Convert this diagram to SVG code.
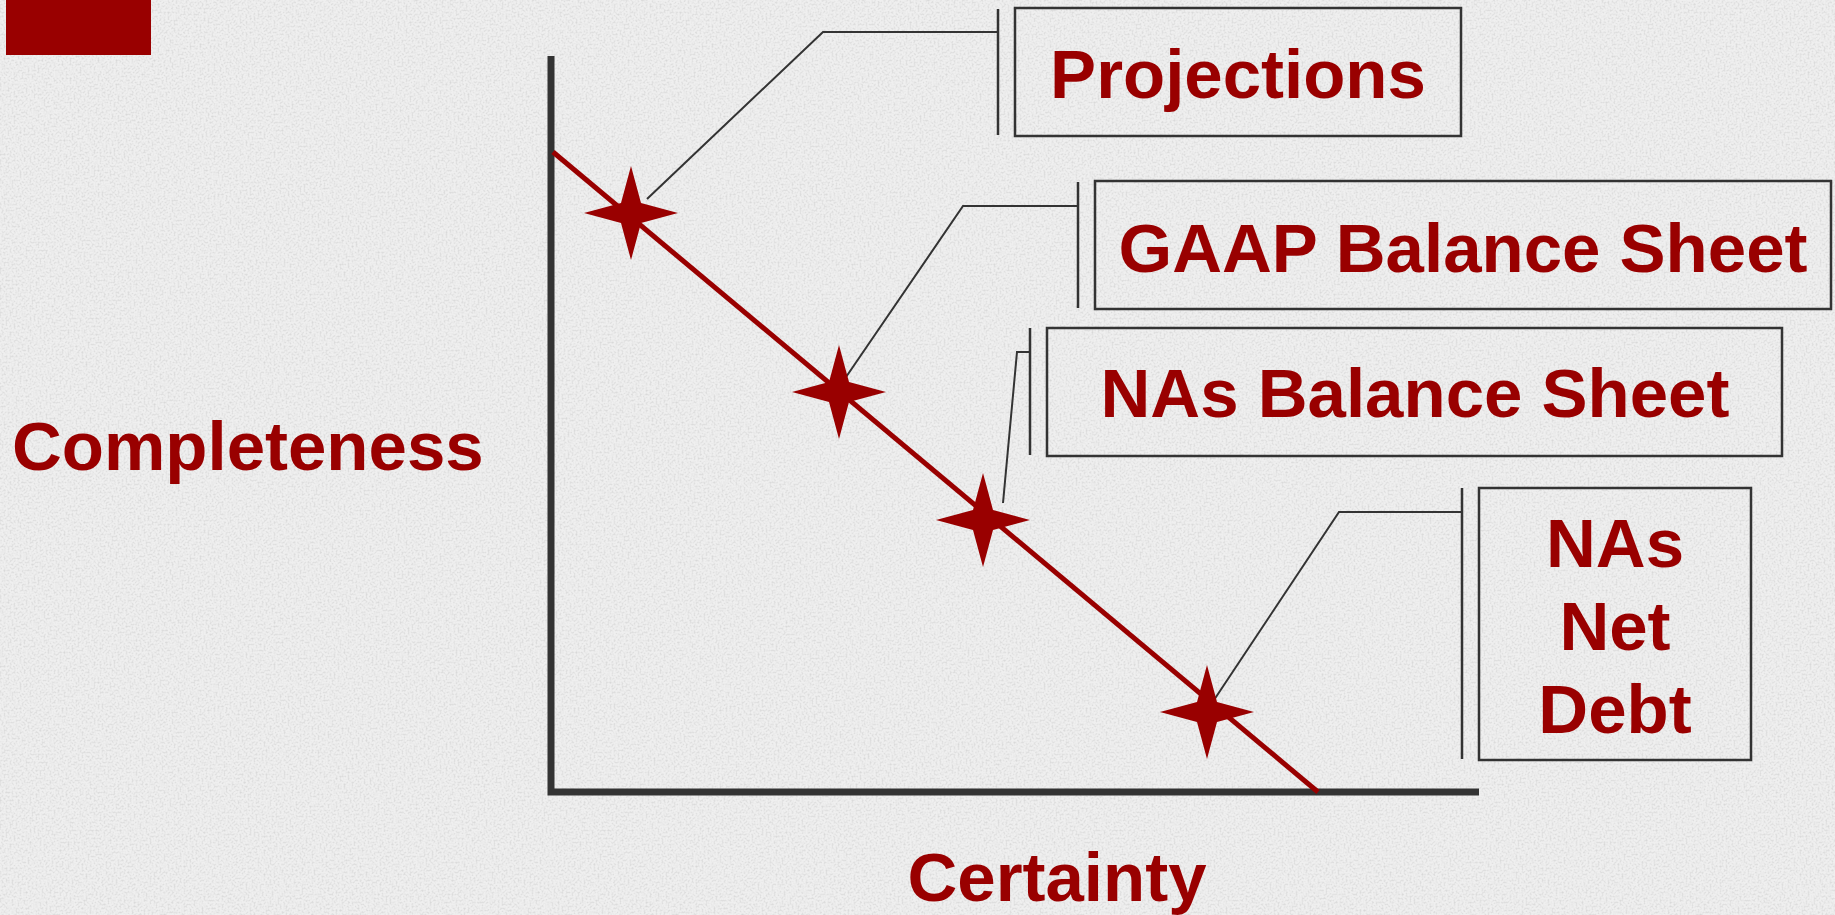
<svg xmlns="http://www.w3.org/2000/svg" width="1835" height="915" viewBox="0 0 1835 915">
  <defs>
    <filter id="grain" x="0" y="0" width="100%" height="100%">
      <feTurbulence type="fractalNoise" baseFrequency="0.5" numOctaves="3" seed="4" result="n"/>
      <feColorMatrix in="n" type="matrix" values="0 0 0 0 0.6  0 0 0 0 0.6  0 0 0 0 0.6  -2.2 0 0 0 1.25" result="g"/>
      <feComposite in="g" in2="SourceGraphic" operator="in"/>
    </filter>
    <path id="star" d="M0,-47 L10,-10 L47,0 L10,10 L0,47 L-10,10 L-47,0 L-10,-10 Z"/>
    <style>
      .lbl { font-family: "Liberation Sans", Arial, sans-serif; font-weight: bold; font-size: 69px; fill: #990000; }
      .box { fill: none; stroke: #333333; stroke-width: 2.5; }
      .bar { stroke: #333333; stroke-width: 2.5; fill: none; }
      .lead { stroke: #333333; stroke-width: 2; fill: none; }
      .axis { stroke: #333333; stroke-width: 7; fill: none; }
      .trend { stroke: #990000; stroke-width: 5; fill: none; }
      .star { fill: #990000; }
    </style>
  </defs>

  <g id="background">
    <rect x="0" y="0" width="1835" height="915" fill="#efefef"/>
    <rect x="0" y="0" width="1835" height="915" fill="#ffffff" filter="url(#grain)" opacity="0.7"/>
  </g>

  <rect id="corner-block" x="6" y="0" width="145" height="55" fill="#990000"/>

  <g id="axes">
    <polyline class="axis" points="551,56 551,792 1479,792"/>
  </g>

  <g id="axis-labels">
    <text class="lbl" x="12" y="470">Completeness</text>
    <text class="lbl" x="1057" y="901" text-anchor="middle">Certainty</text>
  </g>

  <g id="trend-line">
    <line class="trend" x1="553" y1="152" x2="1318" y2="792"/>
  </g>

  <g id="connectors">
    <polyline class="lead" points="647,199 823,32 998,32"/>
    <line class="bar" x1="998" y1="9" x2="998" y2="135"/>
    <polyline class="lead" points="844,380 963,206 1078,206"/>
    <line class="bar" x1="1078" y1="182" x2="1078" y2="308"/>
    <polyline class="lead" points="1003,503 1017,352 1030,352"/>
    <line class="bar" x1="1030" y1="328" x2="1030" y2="455"/>
    <polyline class="lead" points="1212,703 1339,512 1462,512"/>
    <line class="bar" x1="1462" y1="488" x2="1462" y2="759"/>
  </g>

  <g id="stars">
    <use href="#star" class="star" x="631" y="213"/>
    <use href="#star" class="star" x="839" y="392"/>
    <use href="#star" class="star" x="983" y="520"/>
    <use href="#star" class="star" x="1207" y="712"/>
  </g>

  <g id="node-projections">
    <rect class="box" x="1015" y="8" width="446" height="128"/>
    <text class="lbl" x="1238" y="98" text-anchor="middle">Projections</text>
  </g>

  <g id="node-gaap">
    <rect class="box" x="1095" y="181" width="736" height="128"/>
    <text class="lbl" x="1463" y="272" text-anchor="middle">GAAP Balance Sheet</text>
  </g>

  <g id="node-nas-bs">
    <rect class="box" x="1047" y="328" width="735" height="128"/>
    <text class="lbl" x="1415" y="417" text-anchor="middle">NAs Balance Sheet</text>
  </g>

  <g id="node-nas-net-debt">
    <rect class="box" x="1479" y="488" width="272" height="272"/>
    <text class="lbl" x="1615" y="567" text-anchor="middle">NAs</text>
    <text class="lbl" x="1615" y="650" text-anchor="middle">Net</text>
    <text class="lbl" x="1615" y="733" text-anchor="middle">Debt</text>
  </g>
</svg>
